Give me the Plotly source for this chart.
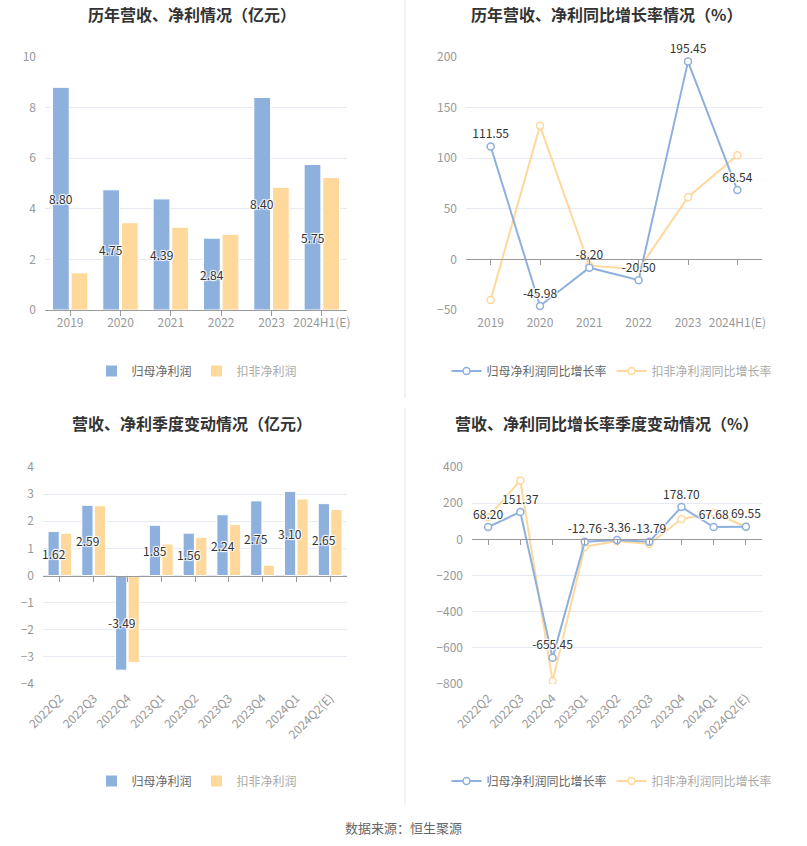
import plotly.graph_objects as go

W, H = 807, 846
FONT = "Noto Sans CJK SC"
BLUE = "#8eb0dd"
YELLOW = "#ffd89b"

years = ["2019", "2020", "2021", "2022", "2023", "2024H1(E)"]
annual_np = [8.80, 4.75, 4.39, 2.84, 8.40, 5.75]
annual_dnp = [1.47, 3.45, 3.27, 2.99, 4.85, 5.24]
annual_np_g = [111.55, -45.98, -8.20, -20.50, 195.45, 68.54]
annual_dnp_g = [-40.0, 132.0, -6.2, -9.8, 61.4, 102.9]

quarters = ["2022Q2", "2022Q3", "2022Q4", "2023Q1", "2023Q2", "2023Q3",
            "2023Q4", "2024Q1", "2024Q2(E)"]
q_np = [1.62, 2.59, -3.49, 1.85, 1.56, 2.24, 2.75, 3.10, 2.65]
q_dnp = [1.56, 2.57, -3.21, 1.16, 1.41, 1.88, 0.38, 2.82, 2.43]
q_np_g = [68.20, 151.37, -655.45, -12.76, -3.36, -13.79, 178.70, 67.68, 69.55]
q_dnp_g = [121.7, 326.0, -784.0, -40.6, -9.4, -26.0, 112.0, 145.0, 69.7]

titles = ["历年营收、净利情况（亿元）", "历年营收、净利同比增长率情况（%）",
          "营收、净利季度变动情况（亿元）", "营收、净利同比增长率季度变动情况（%）"]
bar_names = ["归母净利润", "扣非净利润"]
line_names = ["归母净利润同比增长率", "扣非净利润同比增长率"]

SHADOW = "1px 1px 1px #fff, -1px -1px 1px #fff, 1px -1px 1px #fff, -1px 1px 1px #fff"
LBL = dict(family=FONT, size=12, color="#333", shadow=SHADOW)
BARGAP = 0.26


def px_x(p):
    return p / W


def px_y(p):
    return 1 - p / H


# panel geometry (pixels)
panels = [
    dict(x0=45, x1=347, y0=57, y1=310, rng=[0, 10], dt=2, cats=years),
    dict(x0=466, x1=762, y0=57, y1=310, rng=[-50, 200], dt=50, cats=years),
    dict(x0=43, x1=347, y0=467, y1=684, rng=[-4, 4], dt=1, cats=quarters),
    dict(x0=472, x1=762, y0=467, y1=684, rng=[-800, 400], dt=200, cats=quarters),
]

fig = go.Figure()
legend_keys = ["legend", "legend2", "legend3", "legend4"]
annotations = []


def bar_pair(i, cats, a, b):
    sx = "" if i == 0 else str(i + 1)
    fig.add_trace(go.Bar(
        x=cats, y=a, name=bar_names[0], marker=dict(color=BLUE, line=dict(color="#fff", width=1)),
        xaxis="x" + sx, yaxis="y" + sx, legend=legend_keys[i]))
    fig.add_trace(go.Bar(
        x=cats, y=b, name=f"<span style='color:#aaa'>{bar_names[1]}</span>",
        marker=dict(color=YELLOW, line=dict(color="#fff", width=1)),
        xaxis="x" + sx, yaxis="y" + sx, legend=legend_keys[i]))
    p = panels[i]
    catw = (p["x1"] - p["x0"]) / len(cats)
    shift = -(1 - BARGAP) / 4 * catw
    for k, v in enumerate(a):
        annotations.append(dict(
            x=k, y=v / 2, xref="x" + sx, yref="y" + sx, text=f"{v:.2f}",
            showarrow=False, xshift=shift, font=LBL, xanchor="center", yanchor="middle"))


def line_pair(i, cats, a, b):
    sx = str(i + 1)
    fig.add_trace(go.Scatter(
        x=cats, y=b, name=f"<span style='color:#aaa'>{line_names[1]}</span>", mode="lines+markers",
        line=dict(color=YELLOW, width=2),
        marker=dict(symbol="circle", size=7, color="#fff", line=dict(color=YELLOW, width=1.5)),
        xaxis="x" + sx, yaxis="y" + sx, legend=legend_keys[i], legendrank=2))
    fig.add_trace(go.Scatter(
        x=cats, y=a, name=line_names[0], mode="lines+markers+text",
        text=[f"{v:.2f}" for v in a], textposition="top center", textfont=LBL,
        line=dict(color=BLUE, width=2),
        marker=dict(symbol="circle", size=7, color="#fff", line=dict(color=BLUE, width=1.5)),
        xaxis="x" + sx, yaxis="y" + sx, legend=legend_keys[i], legendrank=1, cliponaxis=False))


bar_pair(0, years, annual_np, annual_dnp)
line_pair(1, years, annual_np_g, annual_dnp_g)
bar_pair(2, quarters, q_np, q_dnp)
line_pair(3, quarters, q_np_g, q_dnp_g)

layout = dict(
    width=W, height=H, margin=dict(l=0, r=0, t=0, b=0, autoexpand=False),
    paper_bgcolor="#fff", plot_bgcolor="#fff",
    font=dict(family=FONT, size=12, color="#999"),
    barmode="group", bargap=BARGAP, bargroupgap=0.1,
    showlegend=True,
)

for i, p in enumerate(panels):
    sx = "" if i == 0 else str(i + 1)
    n = len(p["cats"])
    rot = i >= 2
    layout["xaxis" + sx] = dict(
        domain=[px_x(p["x0"]), px_x(p["x1"])], anchor="y" + sx, automargin=False,
        type="category", categoryorder="array", categoryarray=p["cats"],
        range=[-0.5, n - 0.5], showgrid=False, zeroline=False, showline=False,
        ticks="", tickangle=-45 if rot else 0,
        tickfont=dict(family=FONT, size=12, color="#999"), ticklabelstandoff=4,
    )
    layout["yaxis" + sx] = dict(
        domain=[px_y(p["y1"]), px_y(p["y0"])], anchor="x" + sx, automargin=False,
        range=p["rng"], dtick=p["dt"], showgrid=True, gridcolor="#e6eaf2", gridwidth=1,
        zeroline=False, showline=False, ticks="",
        tickfont=dict(family=FONT, size=12, color="#999"), ticklabelstandoff=8,
    )
    # zero axis line with tick marks (overlay axis)
    lo, hi = p["rng"]
    ypos = px_y(p["y1"]) + (0 - lo) / (hi - lo) * (px_y(p["y0"]) - px_y(p["y1"]))
    ox = str(i + 5)
    layout["xaxis" + ox] = dict(
        overlaying="x" + sx, anchor="free", position=ypos, automargin=False,
        domain=[px_x(p["x0"]), px_x(p["x1"])],
        type="category", categoryorder="array", categoryarray=p["cats"],
        range=[-0.5, n - 0.5], showgrid=False, zeroline=False,
        showline=True, linecolor="#9a9a9a", linewidth=1,
        ticks="outside", ticklen=5, tickcolor="#9a9a9a", tickwidth=1,
        showticklabels=False,
    )
    fig.add_trace(go.Scatter(x=p["cats"], y=[None] * n, mode="markers",
                             xaxis="x" + ox, yaxis="y" + sx, showlegend=False,
                             hoverinfo="skip"))

legend_pos = [(197, 371), (612, 371), (197, 781), (612, 781)]
for i, (lx, ly) in enumerate(legend_pos):
    layout[legend_keys[i]] = dict(
        orientation="h", x=px_x(lx), y=px_y(ly), xanchor="center", yanchor="middle",
        font=dict(family=FONT, size=12, color="#666"), bgcolor="rgba(0,0,0,0)",
        itemwidth=30, traceorder="normal",
    )

title_pos = [(192, 14), (606, 14), (192, 423), (606, 423)]
for t, (tx, ty) in zip(titles, title_pos):
    annotations.append(dict(
        text=f"<b>{t}</b>", x=px_x(tx), y=px_y(ty), xref="paper", yref="paper",
        xanchor="center", yanchor="middle", showarrow=False,
        font=dict(family=FONT, size=16, color="#333")))
annotations.append(dict(
    text="数据来源：恒生聚源", x=px_x(403), y=px_y(827), xref="paper", yref="paper",
    xanchor="center", yanchor="middle", showarrow=False,
    font=dict(family=FONT, size=13, color="#666")))
layout["annotations"] = annotations

layout["shapes"] = [
    dict(type="line", xref="paper", yref="paper", x0=px_x(405), x1=px_x(405),
         y0=px_y(0), y1=px_y(398), line=dict(color="#f2f2f2", width=2)),
    dict(type="line", xref="paper", yref="paper", x0=px_x(405), x1=px_x(405),
         y0=px_y(408), y1=px_y(805), line=dict(color="#f2f2f2", width=2)),
]

fig.update_layout(**layout)
fig.write_html("out.html")
